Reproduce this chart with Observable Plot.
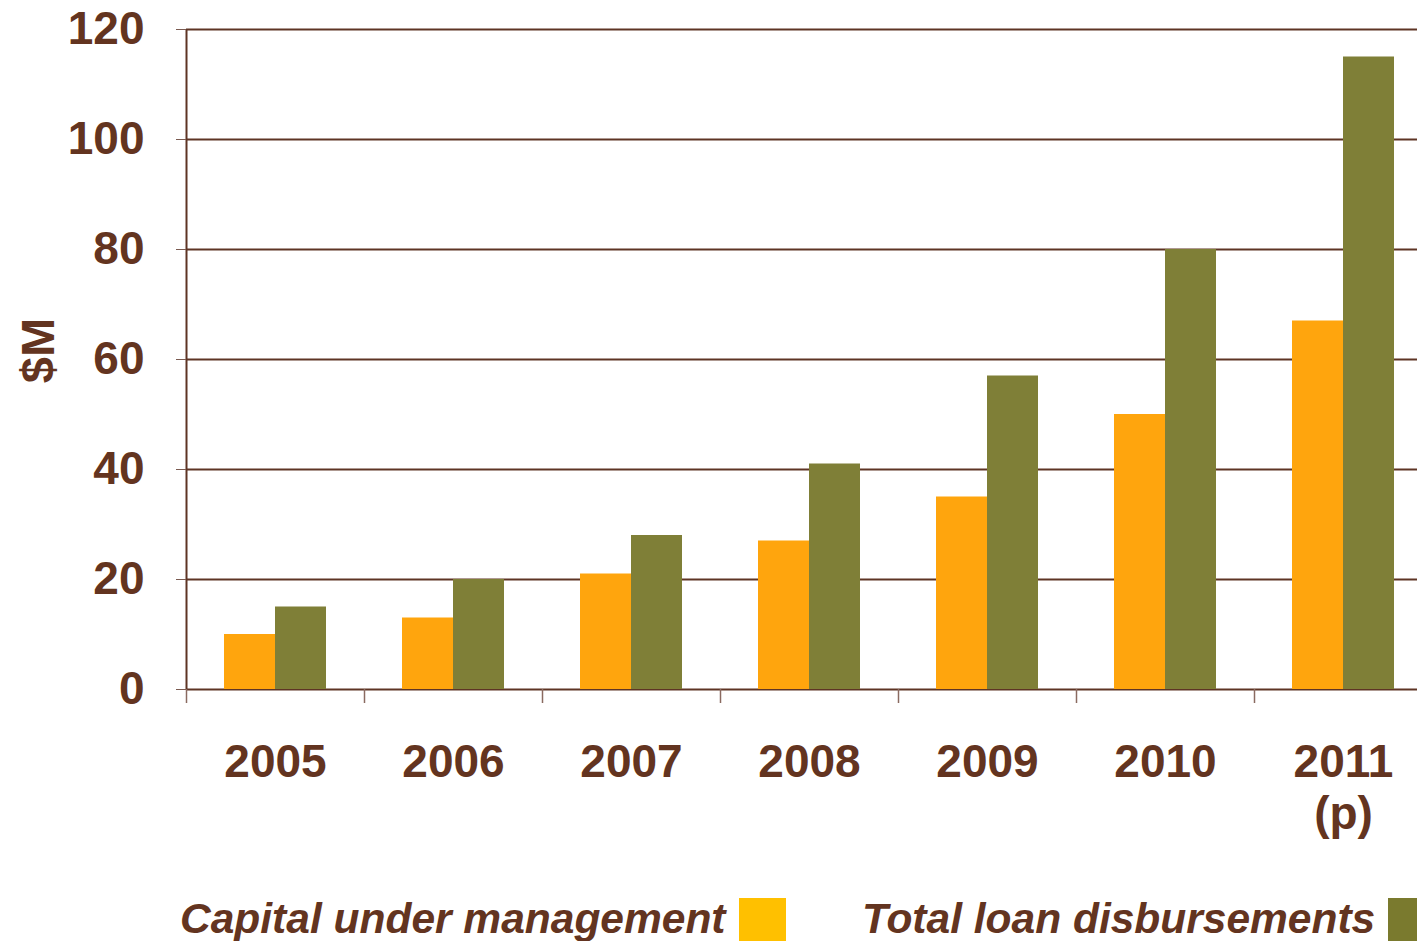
<!DOCTYPE html>
<html>
<head>
<meta charset="utf-8">
<script src="https://cdn.jsdelivr.net/npm/d3@7"></script>
<script src="https://cdn.jsdelivr.net/npm/@observablehq/plot@0.6"></script>
<style>
  html, body { margin: 0; padding: 0; background: #fff; overflow: hidden; width: 1417px; height: 941px; }
  #chart svg { display: block; max-width: none; }
  #legend { position: relative; width: 1417px; height: 71px; font-family: "Liberation Sans", Arial, sans-serif; font-weight: bold; font-style: italic; font-size: 42.5px; color: #633420; }
  #legend .item { position: absolute; top: 26px; display: flex; align-items: flex-start; white-space: nowrap; }
  #legend .label { line-height: 46px; }
  #legend .sw { width: 47px; height: 46px; margin-left: 13px; margin-top: 2px; flex: none; }
</style>
</head>
<body>
<div id="chart"></div>
<div id="legend"></div>
<script>
const years = ["2005", "2006", "2007", "2008", "2009", "2010", "2011"];
const yearLabels = ["2005", "2006", "2007", "2008", "2009", "2010", "2011\n(p)"];
const capital = [10, 13, 21, 27, 35, 50, 67];
const loans = [15, 20, 28, 41, 57, 80, 115];
const yTicks = [0, 20, 40, 60, 80, 100, 120];
const yTitle = "$M";
const seriesNames = ["Capital under management", "Total loan disbursements"];
const legendColors = ["#FFC000", "#7A7A2E"];

const brown = "#633420";
const capData = years.map((y, i) => ({year: y, value: capital[i]}));
const loanData = years.map((y, i) => ({year: y, value: loans[i]}));
const labelOf = Object.fromEntries(years.map((y, i) => [y, yearLabels[i]]));

const chart = Plot.plot({
  width: 1417,
  height: 870,
  marginTop: 29,
  marginBottom: 181,
  marginLeft: 186,
  marginRight: 0,
  style: {fontFamily: "'Liberation Sans', Arial, sans-serif", fontWeight: "bold", color: brown, background: "white", overflow: "visible"},
  x: {domain: years, range: [186, 1432], paddingInner: 0.427, paddingOuter: 0.2135, label: null},
  y: {domain: [0, 120], label: null},
  marks: [
    Plot.ruleY(yTicks, {stroke: "#5E3424", strokeWidth: 2}),
    Plot.ruleX([years[0]], {dx: -89, stroke: "#5E3424", strokeWidth: 2}),
    Plot.barY(capData, {x: "year", y: "value", fill: "#FFA50D", insetRight: 51}),
    Plot.barY(loanData, {x: "year", y: "value", fill: "#7F7F37", insetLeft: 51}),
    Plot.axisY({ticks: yTicks, tickSize: 10, tickPadding: 32, fontSize: 46, stroke: "#7a5a50", fill: brown, label: null}),
    Plot.text([yTitle], {frameAnchor: "left", text: d => d, rotate: -90, textAnchor: "middle", lineAnchor: "middle", dx: -148, dy: -9, fontSize: 47, fontWeight: "bold", fill: brown}),
    Plot.axisX({tickSize: 14, tickFormat: () => "", dx: -89, stroke: "#8a6a60", strokeWidth: 1.5, label: null}),
    Plot.axisX({tickSize: 0, tickPadding: 51, fontSize: 46, lineHeight: 1.13, fill: brown, tickFormat: d => labelOf[d], label: null})
  ]
});
document.getElementById("chart").appendChild(chart);

const legend = document.getElementById("legend");
const lefts = [180, 862];
seriesNames.forEach((name, i) => {
  const item = document.createElement("div");
  item.className = "item";
  item.style.left = lefts[i] + "px";
  const lab = document.createElement("span");
  lab.className = "label";
  lab.textContent = name;
  const sw = document.createElement("span");
  sw.className = "sw";
  sw.style.background = legendColors[i];
  item.appendChild(lab);
  item.appendChild(sw);
  legend.appendChild(item);
});
</script>
</body>
</html>
